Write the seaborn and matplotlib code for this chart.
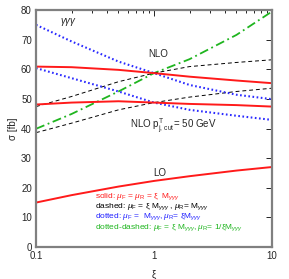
import numpy as np
import pandas as pd
import seaborn as sns
import matplotlib
matplotlib.use("Agg")
import matplotlib.pyplot as plt
from matplotlib.ticker import LogLocator, NullFormatter, FixedLocator, FixedFormatter

# scale factor xi
xi = [0.1, 0.2, 0.5, 1.0, 2.0, 5.0, 10.0]

# NLO inclusive
nlo_solid = [60.9, 60.7, 59.8, 58.7, 57.5, 56.2, 55.3]
nlo_dashed = [47.4, 50.8, 55.8, 58.7, 60.9, 62.3, 63.2]
nlo_dotted = [75.0, 69.4, 62.6, 58.7, 54.7, 51.4, 49.9]
nlo_dotdash = [39.9, 44.9, 52.5, 58.7, 63.4, 71.6, 79.5]

# NLO with pT jet cut
cut_solid = [48.1, 48.75, 49.2, 48.75, 48.3, 47.9, 47.4]
cut_dashed = [38.6, 41.8, 46.3, 48.75, 50.6, 52.5, 53.6]
cut_dotted = [60.4, 57.0, 52.5, 48.75, 46.3, 44.3, 42.9]

# LO
lo_solid = [15.0, 17.5, 20.4, 22.3, 23.9, 25.8, 27.0]

RED = "#ff1a1a"
BLUE = "#2a2aff"
GREEN = "#1fb51f"

sns.set_theme(style="white")
plt.rcParams["font.family"] = ["Liberation Sans", "DejaVu Sans"]
plt.rcParams["mathtext.fontset"] = "custom"
plt.rcParams["mathtext.rm"] = "Liberation Sans"
plt.rcParams["mathtext.it"] = "Liberation Sans:italic"
plt.rcParams["mathtext.sf"] = "Liberation Sans"

fig = plt.figure(figsize=(2.89, 2.79), dpi=100)
ax = fig.add_axes([0.1246, 0.1147, 0.8166, 0.8494])

styles = {
    "solid": dict(color=RED, lw=1.4, ls="-"),
    "dashed": dict(color="black", lw=0.7, ls=(0, (4, 3))),
    "dotted": dict(color=BLUE, lw=1.5, ls=(0, (0.8, 1.2))),
    "dotdash": dict(color=GREEN, lw=1.3, ls=(0, (5, 2, 1, 2))),
}

curves = [
    (nlo_dotdash, "dotdash"),
    (nlo_dashed, "dashed"),
    (cut_dashed, "dashed"),
    (nlo_dotted, "dotted"),
    (cut_dotted, "dotted"),
    (nlo_solid, "solid"),
    (cut_solid, "solid"),
    (lo_solid, "solid"),
]
for vals, st in curves:
    df = pd.DataFrame({"xi": xi, "sigma": vals})
    sns.lineplot(data=df, x="xi", y="sigma", ax=ax, **styles[st])

ax.set_xscale("log")
ax.set_xlim(0.1, 10)
ax.set_ylim(0, 80)
ax.set_yticks(np.arange(0, 81, 10))
ax.xaxis.set_major_locator(FixedLocator([0.1, 1, 10]))
ax.xaxis.set_major_formatter(FixedFormatter(["0.1", "1", "10"]))
ax.xaxis.set_minor_locator(LogLocator(base=10, subs=np.arange(2, 10)))
ax.xaxis.set_minor_formatter(NullFormatter())
ax.tick_params(which="both", direction="in", top=True, right=True,
               labelsize=7, color="black", pad=3)
ax.tick_params(which="major", length=4, width=0.6)
ax.tick_params(which="minor", length=2.5, width=0.6)
for sp in ax.spines.values():
    sp.set_color("#808080")
    sp.set_linewidth(1.6)

ax.set_xlabel("ξ", fontsize=7, labelpad=6)
ax.set_ylabel("σ [fb]", fontsize=7, labelpad=2)

ax.text(0.16, 76, r"$\mathit{\gamma\gamma\gamma}$", fontsize=7, va="center")
ax.text(0.9, 65.2, "NLO", fontsize=7, va="center")
ax.text(0.62, 40.6, r"NLO p$^\mathrm{T}_\mathrm{j,\,cut}$= 50 GeV", fontsize=7, va="center")
ax.text(0.98, 25.0, "LO", fontsize=7, va="center")

leg_x = 0.315
leg_fs = 6.0
ax.text(leg_x, 16.9, r"solid: $\mu_\mathrm{F}$ = $\mu_\mathrm{R}$ = ξ  M$_{\mathit{\gamma\gamma\gamma}}$",
        fontsize=leg_fs, color=RED, va="center")
ax.text(leg_x, 13.5, r"dashed: $\mu_\mathrm{F}$ = ξ M$_{\mathit{\gamma\gamma\gamma}}$ , $\mu_\mathrm{R}$= M$_{\mathit{\gamma\gamma\gamma}}$",
        fontsize=leg_fs, color="black", va="center")
ax.text(leg_x, 10.1, r"dotted: $\mu_\mathrm{F}$ =  M$_{\mathit{\gamma\gamma\gamma}}$, $\mu_\mathrm{R}$= ξM$_{\mathit{\gamma\gamma\gamma}}$",
        fontsize=leg_fs, color="#2020ff", va="center")
ax.text(leg_x, 6.7, r"dotted-dashed: $\mu_\mathrm{F}$ = ξ M$_{\mathit{\gamma\gamma\gamma}}$, $\mu_\mathrm{R}$= 1/ξM$_{\mathit{\gamma\gamma\gamma}}$",
        fontsize=leg_fs, color=GREEN, va="center")

fig.savefig("out.png", dpi=100)
